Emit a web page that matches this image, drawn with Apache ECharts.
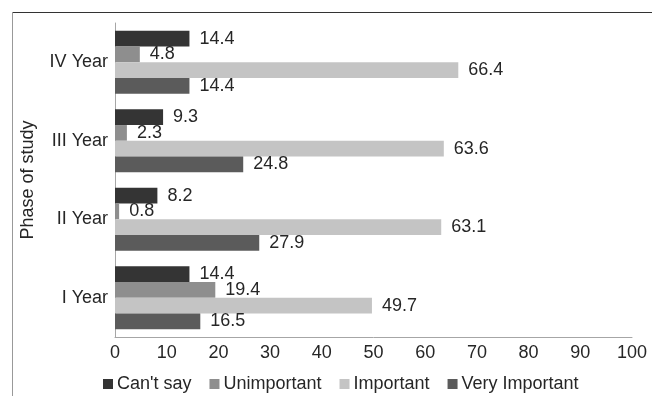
<!DOCTYPE html>
<html>
<head>
<meta charset="utf-8">
<script src="https://cdn.jsdelivr.net/npm/echarts@6/dist/echarts.min.js"></script>
<style>
  html, body { margin: 0; padding: 0; background: #fff; }
  #chart { width: 652px; height: 396px; }
</style>
</head>
<body>
<div id="chart"></div>
<script>
// phase of study, bottom to top
const phases = ['I Year', 'II Year', 'III Year', 'IV Year']
const cantSay = [14.4, 8.2, 9.3, 14.4]
const unimportant = [19.4, 0.8, 2.3, 4.8]
const important = [49.7, 63.1, 63.6, 66.4]
const veryImportant = [16.5, 27.9, 24.8, 14.4]
const legendNames = ["Can't say", 'Unimportant', 'Important', 'Very Important']

const font = '"Liberation Sans", Arial, sans-serif'
const textColor = '#262626'
const fs = 18

function makeSeries(name, data, color) {
  return {
    name: name,
    type: 'bar',
    data: data,
    barGap: '0%',
    barCategoryGap: '20%',
    animation: false,
    itemStyle: { color: color },
    label: {
      show: true,
      position: 'right',
      distance: 10,
      color: textColor,
      fontSize: fs,
      fontFamily: font
    }
  }
}

const chart = echarts.init(document.getElementById('chart'))
chart.setOption({
  textStyle: { fontFamily: font },
  graphic: [
    // outer frame (top and left edges only, as in the source image)
    { type: 'line', shape: { x1: 12, y1: 12.5, x2: 652, y2: 12.5 }, style: { stroke: '#333', lineWidth: 1 } },
    { type: 'line', shape: { x1: 12.5, y1: 12, x2: 12.5, y2: 396 }, style: { stroke: '#999', lineWidth: 1 } }
  ],
  grid: {
    left: 115,
    right: 20,
    top: 23,
    bottom: 59
  },
  legend: {
    data: legendNames,
    left: 98,
    top: 370,
    icon: 'rect',
    itemWidth: 10,
    itemHeight: 10,
    itemGap: 18,
    selectedMode: false,
    textStyle: { color: textColor, fontSize: fs, fontFamily: font, padding: [0, 0, 0, -1] }
  },
  xAxis: {
    type: 'value',
    min: 0,
    max: 100,
    interval: 10,
    splitLine: { show: false },
    axisTick: { show: false },
    axisLine: { show: true, lineStyle: { color: '#a6a6a6', width: 1 } },
    axisLabel: { color: textColor, fontSize: fs, margin: 7, fontFamily: font }
  },
  yAxis: {
    type: 'category',
    data: phases,
    name: 'Phase of study',
    nameLocation: 'middle',
    nameRotate: 90,
    nameGap: 78,
    nameTextStyle: { color: textColor, fontSize: fs, fontFamily: font },
    axisTick: { show: false },
    axisLine: { show: true, lineStyle: { color: '#a6a6a6', width: 1 } },
    axisLabel: { color: textColor, fontSize: fs, margin: 7, fontFamily: font }
  },
  // first series sits at the top of each category band
  series: [
    makeSeries("Can't say", cantSay, '#343434'),
    makeSeries('Unimportant', unimportant, '#8e8e8e'),
    makeSeries('Important', important, '#c4c4c4'),
    makeSeries('Very Important', veryImportant, '#5b5b5b')
  ]
})
</script>
</body>
</html>
